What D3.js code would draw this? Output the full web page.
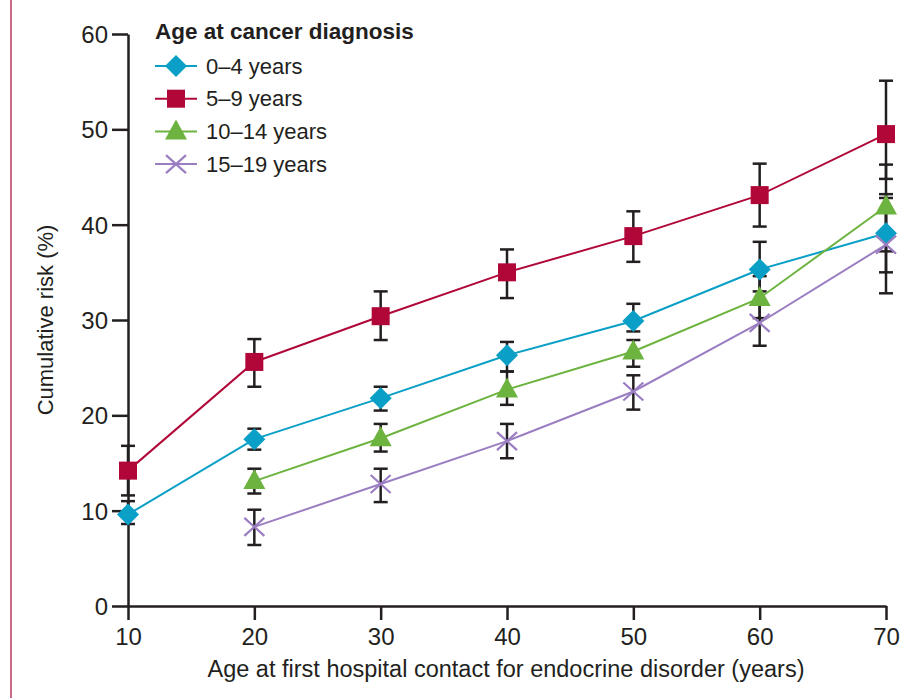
<!DOCTYPE html>
<html lang="en">
<head>
  <meta charset="UTF-8">
  <title>Cumulative risk by age at cancer diagnosis</title>
  <style>
    html, body {
      margin: 0;
      background: #ffffff;
    }
    svg text {
      font-family: "Liberation Sans", Arial, sans-serif;
      fill: #231f20;
    }
  </style>
</head>
<body>
  <svg id="chart" width="911" height="698"></svg>

  <script src="https://cdnjs.cloudflare.com/ajax/libs/d3/7.8.5/d3.min.js"></script>
  <script>
    // data
    const ages = [10, 20, 30, 40, 50, 60, 70];
    const groupNames = ['0–4 years', '5–9 years', '10–14 years', '15–19 years'];
    const yTicks = [0, 10, 20, 30, 40, 50, 60];

    const risk0to4 = [9.6, 17.5, 21.8, 26.3, 29.9, 35.3, 39.1];
    const low0to4 = [8.6, 16.4, 20.5, 24.6, 28.8, 33.0, 35.0];
    const high0to4 = [11.0, 18.6, 23.0, 27.7, 31.7, 38.2, 43.2];

    const risk5to9 = [14.2, 25.6, 30.4, 35.0, 38.8, 43.1, 49.5];
    const low5to9 = [11.6, 23.0, 27.9, 32.3, 36.1, 39.8, 44.8];
    const high5to9 = [16.8, 28.0, 33.0, 37.4, 41.4, 46.4, 55.1];

    // 10-14 and 15-19 start at age 20
    const risk10to14 = [null, 13.1, 17.6, 22.7, 26.7, 32.3, 41.9];
    const low10to14 = [null, 11.8, 16.2, 21.1, 25.1, 30.2, 37.2];
    const high10to14 = [null, 14.4, 19.1, 24.6, 27.9, 34.6, 46.3];

    const risk15to19 = [null, 8.3, 12.8, 17.3, 22.5, 29.7, 37.9];
    const low15to19 = [null, 6.4, 10.9, 15.5, 20.6, 27.3, 32.8];
    const high15to19 = [null, 10.1, 14.4, 19.1, 24.2, 32.0, 42.8];

    const colors = ['#0a9fc6', '#b00638', '#6db33f', '#9b7ec2'];
    const symbols = ['diamond', 'square', 'triangle', 'cross'];

    const series = [
      { risk: risk0to4, low: low0to4, high: high0to4 },
      { risk: risk5to9, low: low5to9, high: high5to9 },
      { risk: risk10to14, low: low10to14, high: high10to14 },
      { risk: risk15to19, low: low15to19, high: high15to19 }
    ].map((s, i) => ({
      name: groupNames[i],
      color: colors[i],
      symbol: symbols[i],
      points: ages.map((a, j) => ({ age: a, v: s.risk[j], lo: s.low[j], hi: s.high[j] }))
        .filter(p => p.v != null)
    }));

    const svg = d3.select('#chart');
    const axisColor = '#231f20';

    const x = d3.scaleLinear().domain([10, 70]).range([128, 886]);
    const y = d3.scaleLinear().domain([0, 60]).range([606, 34]);

    // pink margin rule on the left
    svg.append('line')
      .attr('x1', 11).attr('x2', 11)
      .attr('y1', 0).attr('y2', 698)
      .attr('stroke', '#cc6a85')
      .attr('stroke-width', 2);

    /**
     * Axes
     */
    const yAxis = svg.append('g')
      .attr('transform', `translate(${x(10)},0)`)
      .call(d3.axisLeft(y).tickValues(yTicks).tickSize(16).tickPadding(4).tickSizeOuter(0));

    const xAxis = svg.append('g')
      .attr('transform', `translate(0,${y(0)})`)
      .call(d3.axisBottom(x).tickValues(ages).tickSize(14).tickPadding(8).tickSizeOuter(0));

    [yAxis, xAxis].forEach(ax => {
      ax.attr('font-size', null).attr('font-family', null);
      ax.select('.domain').attr('stroke', axisColor).attr('stroke-width', 2.5);
      ax.selectAll('.tick line').attr('stroke', axisColor).attr('stroke-width', 2.5);
      ax.selectAll('.tick text')
        .attr('fill', axisColor)
        .style('font-size', '24px');
    });
    yAxis.selectAll('.tick text').attr('dy', '0.36em');

    svg.append('text')
      .attr('transform', `translate(53,${y(30)}) rotate(-90)`)
      .attr('text-anchor', 'middle')
      .style('font-size', '22px')
      .text('Cumulative risk (%)');

    svg.append('text')
      .attr('x', x(40) - 1)
      .attr('y', 677)
      .attr('text-anchor', 'middle')
      .style('font-size', '23.5px')
      .text('Age at first hospital contact for endocrine disorder (years)');

    /**
     * Error bars
     */
    const capHalf = 7;
    const bars = svg.append('g').attr('class', 'error-bars');
    series.forEach(s => {
      s.points.forEach(p => {
        const g = bars.append('g')
          .attr('stroke', axisColor)
          .attr('stroke-width', 2.5);
        g.append('line')
          .attr('x1', x(p.age)).attr('x2', x(p.age))
          .attr('y1', y(p.lo)).attr('y2', y(p.hi));
        [p.lo, p.hi].forEach(v => {
          g.append('line')
            .attr('x1', x(p.age) - capHalf).attr('x2', x(p.age) + capHalf)
            .attr('y1', y(v)).attr('y2', y(v));
        });
      });
    });

    /**
     * Lines
     */
    const line = d3.line().x(d => x(d.age)).y(d => y(d.v));
    svg.append('g').selectAll('path')
      .data(series)
      .join('path')
      .attr('d', d => line(d.points))
      .attr('fill', 'none')
      .attr('stroke', d => d.color)
      .attr('stroke-width', 2);

    /**
     * Markers
     */
    function drawMarker(g, symbol, color, cx, cy) {
      if (symbol === 'diamond') {
        g.append('path')
          .attr('d', `M${cx},${cy - 11}L${cx + 11},${cy}L${cx},${cy + 11}L${cx - 11},${cy}Z`)
          .attr('fill', color);
      } else if (symbol === 'square') {
        g.append('rect')
          .attr('x', cx - 9).attr('y', cy - 9)
          .attr('width', 18).attr('height', 18)
          .attr('fill', color);
      } else if (symbol === 'triangle') {
        g.append('path')
          .attr('d', `M${cx},${cy - 12}L${cx + 11},${cy + 8}L${cx - 11},${cy + 8}Z`)
          .attr('fill', color);
      } else {
        g.append('path')
          .attr('d', `M${cx - 10},${cy - 9}L${cx + 10},${cy + 9}M${cx - 10},${cy + 9}L${cx + 10},${cy - 9}`)
          .attr('stroke', color)
          .attr('stroke-width', 2.2)
          .attr('fill', 'none');
      }
    }

    const markers = svg.append('g').attr('class', 'markers');
    series.forEach(s => {
      s.points.forEach(p => drawMarker(markers, s.symbol, s.color, x(p.age), y(p.v)));
    });

    /**
     * Legend
     */
    const legend = svg.append('g').attr('transform', 'translate(155,0)');
    legend.append('text')
      .attr('x', 0).attr('y', 39)
      .style('font-size', '22.5px')
      .style('font-weight', 'bold')
      .text('Age at cancer diagnosis');

    series.forEach((s, i) => {
      const cy = 66 + i * 32.7;
      legend.append('line')
        .attr('x1', 0).attr('x2', 42)
        .attr('y1', cy).attr('y2', cy)
        .attr('stroke', s.color)
        .attr('stroke-width', 2);
      drawMarker(legend, s.symbol, s.color, 21, cy);
      legend.append('text')
        .attr('x', 51).attr('y', cy)
        .attr('dy', '0.35em')
        .style('font-size', '22px')
        .text(s.name);
    });
  </script>
</body>
</html>
